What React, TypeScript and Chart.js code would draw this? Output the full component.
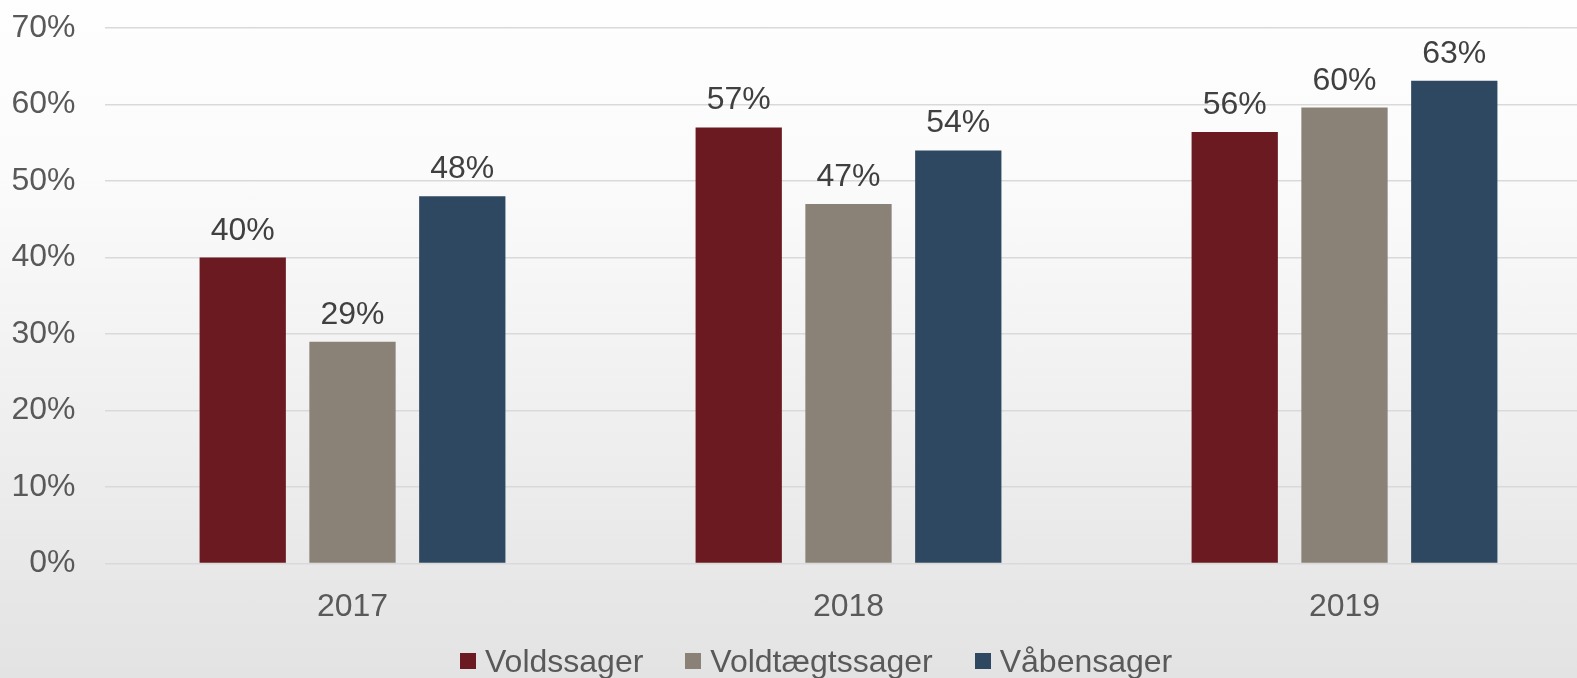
import React, { useEffect, useRef } from "react";
import { Chart, registerables } from "chart.js";

Chart.register(...registerables);

const categories = ["2017", "2018", "2019"];
const seriesNames = ["Voldssager", "Voldtægtssager", "Våbensager"];
const voldssager = [40, 57, 56.4];
const voldtaegtssager = [29, 47, 59.6];
const vaabensager = [48, 54, 63.1];
const seriesColors = ["#6B1A22", "#8A8177", "#2F4861"];
const yMin = 0;
const yMax = 70;
const yStep = 10;

const FONT = '"Liberation Sans", Arial, Helvetica, sans-serif';

const dataLabels = {
  id: "dataLabels",
  afterDatasetsDraw(chart: any) {
    const ctx = chart.ctx;
    ctx.save();
    ctx.font = `32px ${FONT}`;
    ctx.fillStyle = "#404040";
    ctx.textAlign = "center";
    ctx.textBaseline = "alphabetic";
    chart.data.datasets.forEach((ds: any, i: number) => {
      chart.getDatasetMeta(i).data.forEach((bar: any, j: number) => {
        ctx.fillText(Math.round(ds.data[j]) + "%", bar.x, bar.y - 18);
      });
    });
    ctx.restore();
  },
};

export default function App() {
  const ref = useRef<HTMLCanvasElement | null>(null);

  useEffect(() => {
    if (!ref.current) return;
    const seriesData = [voldssager, voldtaegtssager, vaabensager];
    const chart = new Chart(ref.current, {
      type: "bar",
      data: {
        labels: categories,
        datasets: seriesNames.map((name, i) => ({
          label: name,
          data: seriesData[i],
          backgroundColor: seriesColors[i],
          borderWidth: 0,
          categoryPercentage: 0.664,
          barPercentage: 0.786,
        })),
      },
      options: {
        animation: false,
        responsive: false,
        devicePixelRatio: 1,
        layout: { padding: { top: 28, right: 7.5, left: 0, bottom: 0 } },
        plugins: {
          legend: { display: false },
          tooltip: { enabled: false },
        },
        scales: {
          x: {
            grid: { display: false },
            border: { display: false },
            ticks: {
              font: { family: FONT, size: 32 },
              color: "#595959",
              padding: 16,
            },
            afterFit: (s: any) => {
              s.height = 114.5;
              s.paddingLeft = 0;
              s.paddingRight = 0;
            },
          },
          y: {
            min: yMin,
            max: yMax,
            border: { display: false },
            grid: { color: "#d9d9d9", lineWidth: 1.5, drawTicks: false },
            ticks: {
              stepSize: yStep,
              font: { family: FONT, size: 32 },
              color: "#595959",
              padding: 29,
              callback: (v: any) => v + "%",
            },
            afterFit: (s: any) => {
              s.width = 104.5;
              s.paddingTop = 0;
              s.paddingBottom = 0;
            },
          },
        },
      },
      plugins: [dataLabels],
    });
    return () => chart.destroy();
  }, []);

  return (
    <div
      style={{
        position: "absolute",
        left: 0,
        top: 0,
        width: 1577,
        height: 678,
        overflow: "hidden",
        background: "linear-gradient(to bottom, #fefefe 0%, #fbfbfb 25%, #e3e3e3 100%)",
      }}
    >
      <canvas ref={ref} width={1600} height={678} style={{ display: "block" }} />
      <div
        style={{
          position: "absolute",
          left: 460,
          top: 642,
          display: "flex",
          alignItems: "center",
          fontFamily: FONT,
          fontSize: 32,
          lineHeight: "38px",
          color: "#595959",
          whiteSpace: "nowrap",
        }}
      >
        {seriesNames.map((name, i) => (
          <div key={name} style={{ display: "flex", alignItems: "center", marginRight: i < seriesNames.length - 1 ? 42 : 0 }}>
            <span style={{ width: 16, height: 16, background: seriesColors[i], marginRight: 9, display: "inline-block" }} />
            <span>{name}</span>
          </div>
        ))}
      </div>
    </div>
  );
}
